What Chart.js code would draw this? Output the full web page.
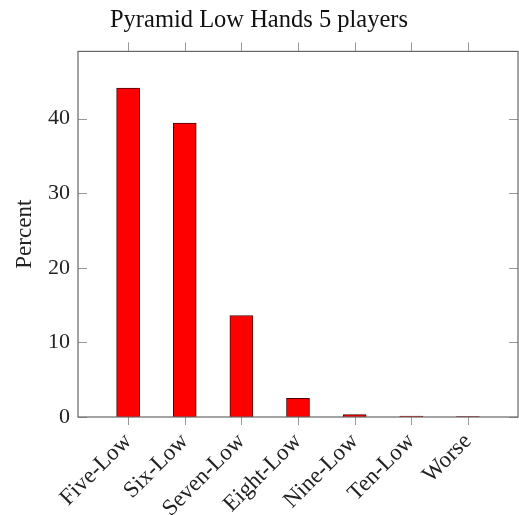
<!DOCTYPE html>
<html>
<head>
<meta charset="utf-8">
<script src="https://cdn.jsdelivr.net/npm/chart.js@4.4.0/dist/chart.umd.min.js"></script>
<style>
  html, body { margin: 0; padding: 0; background: #fff; }
  #wrap { width: 519px; height: 515px; position: relative; }
</style>
</head>
<body>
<div id="wrap"><canvas id="chart"></canvas></div>
<script>
// Data
const categories = ['Five-Low', 'Six-Low', 'Seven-Low', 'Eight-Low', 'Nine-Low', 'Ten-Low', 'Worse'];
const percents = [44.1, 39.4, 13.6, 2.5, 0.32, 0.13, 0.05];
const yTicks = [0, 10, 20, 30, 40];

const FONT = "'Liberation Serif', 'DejaVu Serif', serif";
const AXIS_COLOR = '#666';
const TICK_COLOR = '#999';

// pgfplots style ticks: y ticks inside on both sides, x ticks outside top and bottom
const tickMarks = {
    id: 'tickMarks',
    afterDraw(chart) {
        const ctx = chart.ctx;
        const area = chart.chartArea;
        const x = chart.scales.x;
        const y = chart.scales.y;
        ctx.save();
        ctx.strokeStyle = TICK_COLOR;
        ctx.lineWidth = 1;
        ctx.beginPath();
        yTicks.forEach(v => {
            const py = Math.round(y.getPixelForValue(v)) + 0.5;
            ctx.moveTo(area.left, py);
            ctx.lineTo(area.left + 9, py);
            ctx.moveTo(area.right, py);
            ctx.lineTo(area.right - 9, py);
        });
        categories.forEach((c, i) => {
            const px = Math.round(x.getPixelForValue(i)) + 0.5;
            ctx.moveTo(px, area.top);
            ctx.lineTo(px, area.top - 9);
            ctx.moveTo(px, area.bottom);
            ctx.lineTo(px, area.bottom + 8);
        });
        ctx.stroke();
        // box
        ctx.strokeStyle = AXIS_COLOR;
        ctx.lineWidth = 1.2;
        ctx.strokeRect(area.left, area.top, area.right - area.left, area.bottom - area.top);
        ctx.restore();
    }
};

new Chart(document.getElementById('chart'), {
    type: 'bar',
    data: {
        datasets: [{
            data: percents.map((v, i) => ({ x: i, y: v })),
            backgroundColor: '#ff0000',
            borderColor: '#4a0000',
            borderWidth: 1,
            barThickness: 23
        }]
    },
    options: {
        responsive: true,
        maintainAspectRatio: false,
        animation: false,
        layout: { padding: { left: 0, right: 1, top: 0, bottom: 0 } },
        plugins: {
            legend: { display: false },
            tooltip: { enabled: false },
            title: {
                display: true,
                text: 'Pyramid Low Hands 5 players',
                color: '#111',
                font: { family: FONT, size: 24.5, weight: 'normal' },
                padding: { top: 6, bottom: 16 }
            }
        },
        scales: {
            x: {
                type: 'linear',
                offset: false,
                min: -0.885,
                max: 6.885,
                afterFit: s => { s.height = 98; },
                grid: { offset: false, drawOnChartArea: false, drawTicks: true, tickLength: 7, color: 'rgba(0,0,0,0)' },
                border: { display: false },
                ticks: {
                    stepSize: 1,
                    includeBounds: false,
                    autoSkip: false,
                    maxRotation: 45,
                    minRotation: 45,
                    color: '#222',
                    font: { family: FONT, size: 23 },
                    padding: 4,
                    callback: v => categories[v] || ''
                }
            },
            y: {
                min: 0,
                max: 49,
                afterFit: s => { s.width = 78; },
                grid: { display: false, drawTicks: false },
                border: { display: false },
                ticks: {
                    stepSize: 10,
                    includeBounds: false,
                    color: '#222',
                    font: { family: FONT, size: 22 },
                    padding: 8
                },
                title: {
                    display: true,
                    text: 'Percent',
                    color: '#222',
                    font: { family: FONT, size: 23 },
                    padding: { top: 11, bottom: 0 }
                }
            }
        }
    },
    plugins: [tickMarks]
});
</script>
</body>
</html>
